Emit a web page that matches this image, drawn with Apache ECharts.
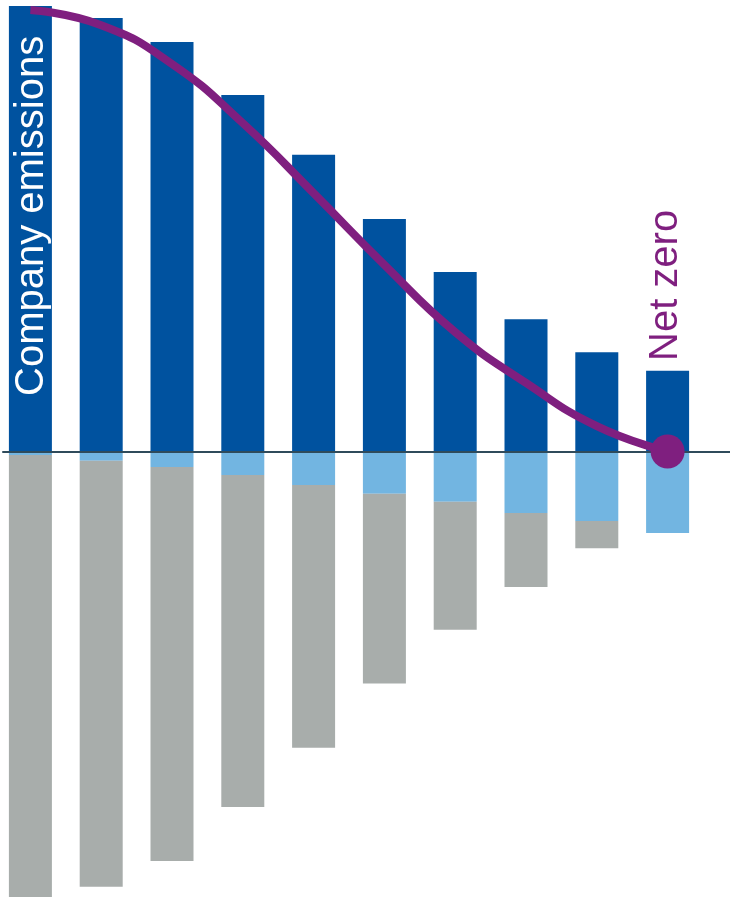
<!DOCTYPE html>
<html>
<head>
<meta charset="utf-8">
<script src="https://cdn.jsdelivr.net/npm/echarts@6/dist/echarts.min.js"></script>
<style>
html,body{margin:0;padding:0;background:#fff;}
#chart{width:730px;height:898px;}
</style>
</head>
<body>
<div id="chart"></div>
<script>
// Data (relative units, first company-emissions bar = 100)
var categories = ['1','2','3','4','5','6','7','8','9','10'];
var companyEmissions = [100.0, 97.3, 91.9, 80.0, 66.6, 52.2, 40.3, 29.7, 22.3, 18.1];
var removals = [-0.8, -2.1, -3.5, -5.3, -7.5, -9.5, -11.3, -13.8, -15.6, -18.3];
var offsets = [-99.2, -95.6, -88.4, -74.5, -59.0, -42.6, -28.7, -16.6, -6.1, 0];
var netPath = [99.1, 95.7, 87.0, 73.7, 58.0, 41.9, 26.8, 15.4, 5.7, 0];

var chart = echarts.init(document.getElementById('chart'), null, {renderer:'canvas'});
var last = categories.length - 1;
var font = '"Liberation Sans", Arial, Helvetica, sans-serif';

var option = {
  animation: false,
  backgroundColor: '#ffffff',
  grid: [
    {left: -5, width: 708, top: 6, bottom: 1, outerBoundsMode: 'none', containLabel: false},
    {left: 3, right: 0, top: 6, bottom: 1, outerBoundsMode: 'none', containLabel: false}
  ],
  xAxis: [
    {type: 'category', data: categories, gridIndex: 0, boundaryGap: true,
     axisLine: {show: false}, axisTick: {show: false}, axisLabel: {show: false}, splitLine: {show: false}},
    {type: 'value', gridIndex: 1, min: 0, max: 1, z: 3,
     axisLine: {show: true, onZero: true, lineStyle: {color: '#2f4b5b', width: 2}},
     axisTick: {show: false}, axisLabel: {show: false}, splitLine: {show: false}}
  ],
  yAxis: [
    {type: 'value', gridIndex: 0, min: -100, max: 100, show: false, splitLine: {show: false}},
    {type: 'value', gridIndex: 1, min: -100, max: 100, show: false, splitLine: {show: false}}
  ],
  series: [
    {name: 'Company emissions', type: 'bar', stack: 'total', barWidth: 43,
     data: companyEmissions, itemStyle: {color: '#00529f'}, z: 2},
    {name: 'Removals', type: 'bar', stack: 'total', barWidth: 43,
     data: removals, itemStyle: {color: '#72b5e1'}, z: 2},
    {name: 'Offsets', type: 'bar', stack: 'total', barWidth: 43,
     data: offsets, itemStyle: {color: '#a8adab'}, z: 2},
    {name: 'Pathway', type: 'line', data: netPath, smooth: true, symbol: 'none',
     lineStyle: {color: '#7f1f7f', width: 8, cap: 'butt'}, z: 4},
    {name: 'Net zero', type: 'scatter', data: [[last, netPath[last]]], symbol: 'circle',
     symbolSize: 34, itemStyle: {color: '#7f1f7f', opacity: 1}, z: 5}
  ],
  graphic: [
    {type: 'text', x: 32, y: 396, rotation: Math.PI / 2, z: 10,
     style: {text: 'Company emissions', fill: '#ffffff', font: '40px ' + font,
             textAlign: 'left', textVerticalAlign: 'middle'}},
    {type: 'text', x: 666, y: 361, rotation: Math.PI / 2, z: 10,
     style: {text: 'Net zero', fill: '#7f1f7f', font: '40px ' + font,
             textAlign: 'left', textVerticalAlign: 'middle'}}
  ]
};
chart.setOption(option);
</script>
</body>
</html>
